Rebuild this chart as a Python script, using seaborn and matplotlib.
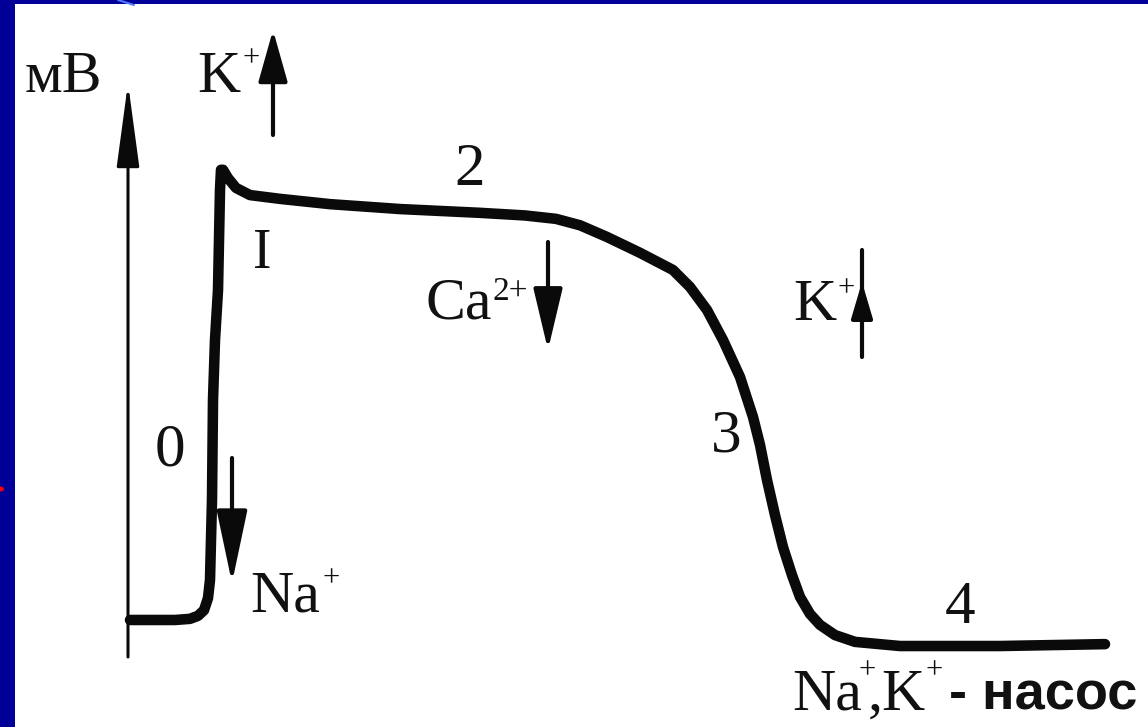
import matplotlib
matplotlib.use("Agg")
import matplotlib.pyplot as plt
from matplotlib.patches import Rectangle, Circle
import seaborn as sns
import pandas as pd

# ---- data: cardiac action potential (time in ms, membrane potential in mV) ----
time_ms = [0, 8, 18, 24, 27.2, 29.6, 31.2, 32, 32.4, 32.8, 33.2, 34, 35.2, 35.6,
           36, 36.4, 37.2, 39.2, 42.4, 48, 60, 80, 108, 140, 158, 170.4, 180,
           190.8, 204, 217.2, 224, 230.8, 237.2, 244, 249.2, 252, 254.8, 258,
           261.2, 264.8, 268, 272, 276, 282, 290, 308, 348, 390]
voltage_mv = [-90, -90, -90, -89.7, -88.9, -87.4, -84.2, -79.4, -68.8, -58.2,
              -31.7, -15.8, -2.6, 10.7, 24.0, 29.3, 29.3, 27.1, 24.5, 22.6, 21.6,
              20.2, 18.9, 17.9, 17.2, 16.3, 14.6, 11.5, 7.3, 2.75, -1.75, -7.85,
              -15.8, -25.6, -36.2, -43.6, -52.9, -62.2, -70.7, -78.1, -83.9,
              -88.4, -91.3, -94.0, -95.8, -96.9, -96.9, -96.4]

phase_labels = ["0", "I", "2", "3", "4"]
axis_unit = "мВ"
pump_word = "- насос"

W, H = 1148, 727
BLUE = "#000099"
INK = "#111111"

sns.set_theme(style="white")
plt.rcParams["font.family"] = ["Liberation Serif", "DejaVu Serif"]

fig = plt.figure(figsize=(W / 100, H / 100), dpi=100, facecolor="white")
ax = fig.add_axes([0, 0, 1, 1])
ax.set_facecolor("none")

df = pd.DataFrame({"t": time_ms, "v": voltage_mv})
sns.lineplot(data=df, x="t", y="v", ax=ax, color="#0a0a0a", lw=7.6,
             sort=False, estimator=None,
             solid_capstyle="round", solid_joinstyle="round")
ax.set_xlim(-52, 407.2)
ax.set_ylim(-118.36, 74.3)
ax.set_axis_off()


def F(px, py):
    return (px / W, 1 - py / H)


# slide frame
fig.patches.append(Rectangle((0, 0), 15 / W, 1, transform=fig.transFigure,
                             facecolor=BLUE, edgecolor="none", zorder=0))
fig.patches.append(Rectangle((0, 1 - 4 / H), 1, 4 / H, transform=fig.transFigure,
                             facecolor=BLUE, edgecolor="none", zorder=0))
fig.lines.append(plt.Line2D([118 / W, 134 / W], [1, 1 - 5 / H],
                            transform=fig.transFigure, color="#4f78ff", lw=1.5))
fig.patches.append(Circle(F(0, 489), 4 / W, transform=fig.transFigure,
                          facecolor="red", edgecolor="none"))


def arrow(p_from, p_to, hl, hw, lw):
    ax.annotate("", xy=F(*p_to), xycoords="figure fraction",
                xytext=F(*p_from), textcoords="figure fraction",
                arrowprops=dict(arrowstyle=f"-|>,head_length={hl},head_width={hw}",
                                mutation_scale=1, lw=lw, color="#0a0a0a",
                                shrinkA=0, shrinkB=0))


# vertical mV axis
arrow((128, 657), (128, 83), 52, 7, 2.2)
# ion arrows
arrow((273, 135), (273, 30), 32, 9, 3)
arrow((232, 458), (232, 583), 45, 9.5, 3)
arrow((548, 242), (548, 350), 38, 9, 3)
arrow((862, 357), (862, 282), 22, 6.5, 3)
fig.lines.append(plt.Line2D([862 / W, 862 / W], [1 - 290 / H, 1 - 250 / H],
                            transform=fig.transFigure, color="#0a0a0a", lw=3))

SERIF = ["Liberation Serif", "DejaVu Serif"]
FS = 43
SUP = 22


def label(px, py, s, ha="left", size=FS):
    fig.text(*F(px, py), s, ha=ha, va="baseline", fontsize=size,
             family=SERIF, color=INK)


def sup(px, py, s, size=SUP):
    # px, py: centre of the superscript glyph
    fig.text(*F(px, py + 8), s, ha="center", va="baseline", fontsize=size,
             family=SERIF, color=INK)


label(25, 92, axis_unit)

# K+ (top)
label(197, 92, "K")
sup(251, 58, "+")
# Na+
label(250, 612, "Na")
sup(331, 578, "+")
# Ca2+
label(425, 318, "Ca")
label(493, 300, "2+", size=24)
# K+ (right)
label(793, 320, "K")
sup(846, 288, "+")
# Na+,K+ - pump
label(792, 710, "Na")
sup(867, 670, "+")
label(868, 710, ",")
label(881, 710, "K")
sup(934, 670, "+")
fig.text(*F(949, 710), pump_word, ha="left", va="baseline", fontsize=39,
         family=["Liberation Sans", "DejaVu Sans"], fontweight="bold", color=INK)

# phase numbers
label(170, 465, phase_labels[0], ha="center", size=44)
label(262, 268, phase_labels[1], ha="center", size=40)
label(470, 185, phase_labels[2], ha="center", size=44)
label(726, 452, phase_labels[3], ha="center", size=44)
label(960, 623, phase_labels[4], ha="center", size=44)

fig.savefig("out.png", dpi=100, facecolor="white")
